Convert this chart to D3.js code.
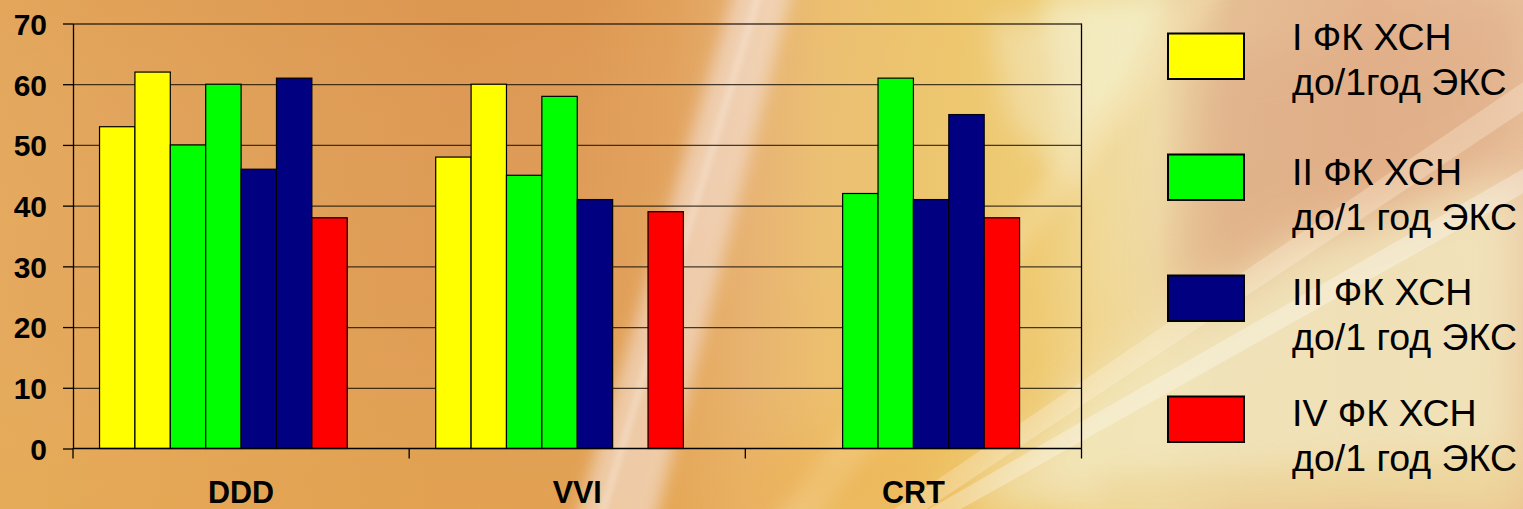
<!DOCTYPE html>
<html>
<head>
<meta charset="utf-8">
<script src="https://cdn.jsdelivr.net/npm/d3@7"></script>
<style>
  html, body { margin: 0; padding: 0; background: #e0a058; }
  svg { display: block; }
</style>
</head>
<body>
<svg id="chart" width="1523" height="509"></svg>
<script>
// Pacing modes on the category axis
const categories = ["DDD", "VVI", "CRT"];

// Share of patients per heart-failure class, before implantation and after 1 year
const classIBefore   = [53, 48, null];
const classIAfter    = [62, 60, null];
const classIIBefore  = [50, 45, 42];
const classIIAfter   = [60, 58, 61];
const classIIIBefore = [46, 41, 41];
const classIIIAfter  = [61, null, 55];
const classIVBefore  = [38, 39, 38];
const classIVAfter   = [null, null, null];

const yTicks = [0, 10, 20, 30, 40, 50, 60, 70];

const legendLines = [
  ["I ФК ХСН", "до/1год ЭКС"],
  ["II ФК ХСН", "до/1 год ЭКС"],
  ["III ФК ХСН", "до/1 год ЭКС"],
  ["IV ФК ХСН", "до/1 год ЭКС"]
];

const classColors = ["#FFFF00", "#00FF00", "#000080", "#FF0000"];

// Eight bar slots per group: before/after for each class
const slots = [
  { values: classIBefore,   cls: 0 },
  { values: classIAfter,    cls: 0 },
  { values: classIIBefore,  cls: 1 },
  { values: classIIAfter,   cls: 1 },
  { values: classIIIBefore, cls: 2 },
  { values: classIIIAfter,  cls: 2 },
  { values: classIVBefore,  cls: 3 },
  { values: classIVAfter,   cls: 3 }
];

const W = 1523, H = 509;
const plot = { left: 73, right: 1081.5, top: 23.5, bottom: 448.5 };
const FONT = "'Liberation Sans', Arial, sans-serif";

const svg = d3.select("#chart");
const defs = svg.append("defs");

// ---------- background ----------
const base = defs.append("linearGradient").attr("id", "bgBase")
  .attr("x1", "0").attr("y1", "0").attr("x2", "1").attr("y2", "0");
[
  [0.00, "#E3A65B"], [0.15, "#DF9E55"], [0.30, "#DC9751"], [0.38, "#DD9853"],
  [0.44, "#E1A05A"], [0.49, "#E6B070"], [0.54, "#EBBE70"], [0.62, "#EDC56C"],
  [0.68, "#EECA72"], [0.72, "#F0D896"], [0.76, "#EFDCA8"], [0.81, "#E5BE94"],
  [0.90, "#E4B48E"], [1.00, "#E8C09C"]
].forEach(([o, c]) => base.append("stop").attr("offset", o).attr("stop-color", c));

const vshade = defs.append("linearGradient").attr("id", "bgV")
  .attr("x1", "0").attr("y1", "0").attr("x2", "0").attr("y2", "1");
vshade.append("stop").attr("offset", 0).attr("stop-color", "#ffffff").attr("stop-opacity", 0);
vshade.append("stop").attr("offset", 0.6).attr("stop-color", "#F2C870").attr("stop-opacity", 0.1);
vshade.append("stop").attr("offset", 1).attr("stop-color", "#EDB850").attr("stop-opacity", 0.3);

[3, 8, 14, 24].forEach(s => {
  defs.append("filter").attr("id", "blur" + s)
    .attr("filterUnits", "userSpaceOnUse")
    .attr("x", -200).attr("y", -200).attr("width", W + 400).attr("height", H + 400)
    .append("feGaussianBlur").attr("stdDeviation", s);
});

const bg = svg.append("g");
bg.append("rect").attr("width", W).attr("height", H).attr("fill", "url(#bgBase)");
bg.append("rect").attr("width", W).attr("height", H).attr("fill", "url(#bgV)");

const soft = [
  // tan upper-right corner
  { pts: [[1200, 60], [1523, 0], [1523, 150], [1320, 230], [1170, 300]], fill: "#DDA882", op: 0.5, blur: 24 },
  // cream lower-right area below the long diagonal
  { pts: [[960, 509], [1523, 509], [1523, 175], [1300, 245], [1080, 390]], fill: "#F2E8C0", op: 0.85, blur: 24 },
  // golden strip along the bottom right
  { pts: [[1100, 475], [1523, 450], [1523, 509], [1100, 509]], fill: "#EBCD86", op: 0.45, blur: 14 },
  // pale greenish glow above the right end of the plot
  { pts: [[1040, 0], [1170, 0], [1130, 90], [1070, 160]], fill: "#F4F2CC", op: 0.75, blur: 14 },
  // cream top-right corner of the plot area
  { pts: [[990, 20], [1085, 20], [1085, 200], [1010, 120]], fill: "#F3E6BC", op: 0.6, blur: 14 },
  // broad pale band rising to the right
  { pts: [[570, 540], [650, 540], [795, -20], [738, -20]], fill: "#F6E4DC", op: 0.6, blur: 8 },
  // long light diagonal streaks, running off the edges
  { pts: [[740, 560], [785, 560], [1250, -40], [1215, -40]], fill: "#F8E6B8", op: 0.3, blur: 8 },
  { pts: [[760, 600], [790, 600], [1600, 60], [1600, 30]], fill: "#FFF4E0", op: 0.3, blur: 6 },
  { pts: [[840, 560], [870, 560], [1600, 150], [1600, 125]], fill: "#FFFFFF", op: 0.3, blur: 6 },
  // orange glow at bottom middle
  { pts: [[700, 509], [900, 509], [960, 430], [760, 450]], fill: "#F0A840", op: 0.3, blur: 24 }
];
soft.forEach(s => {
  bg.append("path")
    .attr("d", d3.line()(s.pts) + "Z")
    .attr("fill", s.fill).attr("opacity", s.op)
    .attr("filter", `url(#blur${s.blur})`);
});
// thin bright streak
bg.append("line").attr("x1", 600).attr("y1", 520).attr("x2", 760).attr("y2", -10)
  .attr("stroke", "#FFF8F0").attr("stroke-width", 2.5).attr("opacity", 0.8)
  .attr("filter", "url(#blur3)");

// ---------- scales ----------
const x0 = d3.scaleBand().domain(categories).range([plot.left, plot.right]).padding(0);
const x1 = d3.scaleBand().domain(d3.range(slots.length)).range([0, x0.bandwidth()])
  .paddingInner(0).paddingOuter(0.75);
const y = d3.scaleLinear().domain([0, 70]).range([plot.bottom, plot.top]);

// ---------- gridlines ----------
const grid = svg.append("g")
  .attr("transform", `translate(${plot.left},0)`)
  .call(d3.axisLeft(y).tickValues(yTicks.filter(v => v > 0))
    .tickSize(-(plot.right - plot.left)).tickFormat(""));
grid.select(".domain").remove();
grid.selectAll("line").attr("stroke", "#1a1208").attr("stroke-opacity", 0.8).attr("stroke-width", 1.3);

// right border of the plot area
svg.append("line")
  .attr("x1", plot.right).attr("x2", plot.right)
  .attr("y1", plot.top).attr("y2", plot.bottom)
  .attr("stroke", "#000").attr("stroke-width", 1.3);

// ---------- bars ----------
const groups = svg.append("g").selectAll("g")
  .data(categories)
  .join("g")
  .attr("transform", d => `translate(${x0(d)},0)`);

groups.selectAll("rect")
  .data((cat, ci) => slots.map((s, si) => ({ si, cls: s.cls, v: s.values[ci] }))
    .filter(d => d.v != null))
  .join("rect")
  .attr("x", d => x1(d.si))
  .attr("width", x1.bandwidth())
  .attr("y", d => y(d.v))
  .attr("height", d => y(0) - y(d.v))
  .attr("fill", d => classColors[d.cls])
  .attr("stroke", "#000")
  .attr("stroke-width", 1.2);

// ---------- axes ----------
const yAxis = svg.append("g")
  .attr("transform", `translate(${plot.left},0)`)
  .call(d3.axisLeft(y).tickValues(yTicks).tickSizeInner(10).tickSizeOuter(0).tickPadding(16));
yAxis.select(".domain").attr("stroke", "#000").attr("stroke-width", 1.3);
yAxis.selectAll(".tick line").attr("stroke", "#000").attr("stroke-width", 1.3);
yAxis.selectAll("text")
  .attr("font-family", FONT).attr("font-size", 30).attr("font-weight", "bold")
  .attr("fill", "#000").attr("dy", "0.36em");

const xAxis = svg.append("g")
  .attr("transform", `translate(0,${plot.bottom})`)
  .call(d3.axisBottom(x0).tickSize(0).tickPadding(33));
xAxis.select(".domain").remove();
xAxis.selectAll("text")
  .attr("font-family", FONT).attr("font-size", 30.5).attr("font-weight", "bold")
  .attr("fill", "#000");

// baseline and category separators
svg.append("line")
  .attr("x1", plot.left).attr("x2", plot.right)
  .attr("y1", plot.bottom).attr("y2", plot.bottom)
  .attr("stroke", "#000").attr("stroke-width", 1.5);
const boundaries = categories.map(c => x0(c)).concat([x0(categories[categories.length - 1]) + x0.bandwidth()]);
svg.append("g").selectAll("line")
  .data(boundaries)
  .join("line")
  .attr("x1", d => d).attr("x2", d => d)
  .attr("y1", plot.bottom).attr("y2", plot.bottom + 10)
  .attr("stroke", "#000").attr("stroke-width", 1.3);

// ---------- legend ----------
const legendTop = 33.5, legendStep = 121;
const legendTextBaseline = [50, 185, 305, 426];
const legend = svg.append("g");
legendLines.forEach((lines, i) => {
  legend.append("rect")
    .attr("x", 1168).attr("y", legendTop + i * legendStep)
    .attr("width", 76).attr("height", 45.5)
    .attr("fill", classColors[i])
    .attr("stroke", "#000").attr("stroke-width", 2);
  const t = legend.append("text")
    .attr("font-family", FONT).attr("font-size", 37.5).attr("fill", "#000");
  lines.forEach((ln, k) => {
    t.append("tspan").attr("x", 1292).attr("y", legendTextBaseline[i] + k * 45).text(ln);
  });
});
</script>
</body>
</html>
